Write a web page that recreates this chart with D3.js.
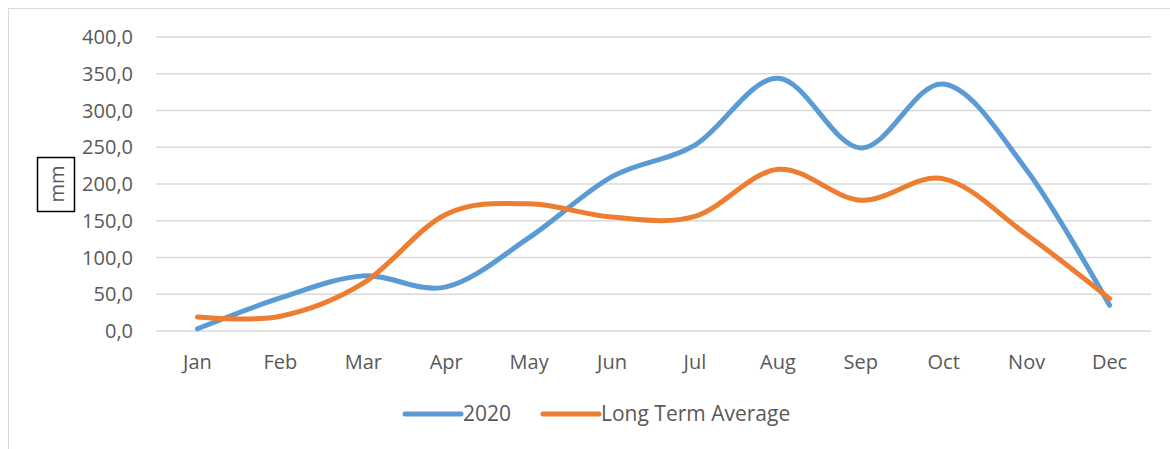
<!DOCTYPE html>
<html>
<head>
<meta charset="utf-8">
<script src="https://cdn.jsdelivr.net/npm/d3@7"></script>
<style>
  body { margin: 0; background: #fff; }
  svg { display: block; font-family: "Open Sans", sans-serif; }
</style>
</head>
<body>
<div id="chart"></div>
<script>
// monthly rainfall, mm
var months = ["Jan", "Feb", "Mar", "Apr", "May", "Jun", "Jul", "Aug", "Sep", "Oct", "Nov", "Dec"];
var rain2020 = [3, 45, 75, 60, 127, 210, 253, 344, 249, 336, 219, 35];
var longTermAvg = [19, 20, 65, 159, 173, 155, 156, 220, 178, 207, 131, 44];
var yTicks = [0, 50, 100, 150, 200, 250, 300, 350, 400];

var width = 1170, height = 449;

var svg = d3.select("#chart")
  .append("svg")
    .attr("width", width)
    .attr("height", height);

// outer chart frame
svg.append("rect")
  .attr("x", 8.5).attr("y", 8.5)
  .attr("width", width + 10).attr("height", height + 10)
  .attr("fill", "none")
  .attr("stroke", "#d9d9d9");

var x = d3.scaleBand()
  .domain(months)
  .range([156, 1151]);

var y = d3.scaleLinear()
  .domain([0, 400])
  .range([331, 37]);

// gridlines
svg.append("g")
  .selectAll("line")
  .data(yTicks)
  .enter()
  .append("line")
    .attr("x1", 156).attr("x2", 1151)
    .attr("y1", d => y(d)).attr("y2", d => y(d))
    .attr("stroke", "#d9d9d9")
    .attr("stroke-width", 1.5);

// y labels
var fmt = d => d.toFixed(1).replace(".", ",");
svg.append("g")
  .selectAll("text")
  .data(yTicks)
  .enter()
  .append("text")
    .attr("x", 133)
    .attr("y", d => y(d))
    .attr("dy", "0.35em")
    .attr("text-anchor", "end")
    .attr("fill", "#595959")
    .style("font-size", "20px")
    .text(fmt);

// x labels
svg.append("g")
  .selectAll("text")
  .data(months)
  .enter()
  .append("text")
    .attr("x", d => x(d) + x.bandwidth() / 2)
    .attr("y", 362)
    .attr("dy", "0.35em")
    .attr("text-anchor", "middle")
    .attr("fill", "#595959")
    .style("font-size", "20px")
    .text(d => d);

var line = d3.line()
  .x((d, i) => x(months[i]) + x.bandwidth() / 2)
  .y(d => y(d))
  .curve(d3.curveCardinal.tension(0));

var series = [
  {name: "2020", values: rain2020, color: "#5b9bd5"},
  {name: "Long Term Average", values: longTermAvg, color: "#ed7d31"}
];

svg.append("g")
  .selectAll("path")
  .data(series)
  .enter()
  .append("path")
    .attr("d", d => line(d.values))
    .attr("fill", "none")
    .attr("stroke", d => d.color)
    .attr("stroke-width", 5)
    .attr("stroke-linecap", "round")
    .attr("stroke-linejoin", "round");

// y axis title box
svg.append("rect")
  .attr("x", 37.5).attr("y", 157.5)
  .attr("width", 37).attr("height", 54)
  .attr("fill", "#fff")
  .attr("stroke", "#000")
  .attr("stroke-width", 1.5);
svg.append("text")
  .attr("transform", "translate(57,184) rotate(-90)")
  .attr("text-anchor", "middle")
  .attr("dy", "0.35em")
  .attr("fill", "#595959")
  .style("font-size", "20px")
  .text("mm");

// legend
var legendX = [405, 543];
var legend = svg.append("g")
  .selectAll("g")
  .data(series)
  .enter()
  .append("g")
    .attr("transform", (d, i) => "translate(" + legendX[i] + ",414)");
legend.append("line")
  .attr("x1", 0).attr("x2", 56)
  .attr("stroke", d => d.color)
  .attr("stroke-width", 5)
  .attr("stroke-linecap", "round");
legend.append("text")
  .attr("x", 58)
  .attr("dy", "0.35em")
  .attr("fill", "#595959")
  .style("font-size", "21px")
  .text(d => d.name);
</script>
</body>
</html>
